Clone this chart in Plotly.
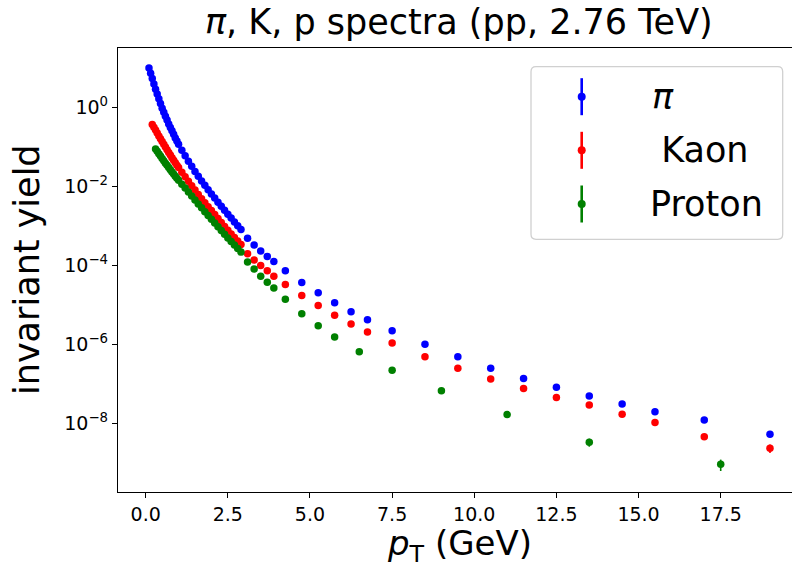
import numpy as np
import plotly.graph_objects as go

# ---------------- data ----------------
pion_pt = [0.10, 0.15, 0.20, 0.25, 0.30, 0.35, 0.40, 0.45, 0.50, 0.55, 0.60, 0.65, 0.70, 0.75, 0.80, 0.85, 0.90, 0.95,
           1.0, 1.1, 1.2, 1.3, 1.4, 1.5, 1.6, 1.7, 1.8, 1.9, 2.0, 2.1, 2.2, 2.3, 2.4, 2.5, 2.6, 2.7, 2.8, 2.9,
           3.1, 3.3, 3.5, 3.7, 3.9, 4.25, 4.75, 5.25, 5.75, 6.25, 6.75, 7.5,
           8.5, 9.5, 10.5, 11.5, 12.5, 13.5, 14.5, 15.5, 17.0, 19.0]
pion_log10_yield = [0.99, 0.855, 0.72, 0.585, 0.45, 0.33, 0.21, 0.09, -0.03, -0.13, -0.23, -0.33, -0.43, -0.52, -0.60, -0.69, -0.78, -0.86,
                    -0.94, -1.09, -1.23, -1.37, -1.50, -1.63, -1.75, -1.87, -1.98, -2.09, -2.20, -2.30, -2.41, -2.51, -2.61, -2.71, -2.81, -2.91, -3.00, -3.10,
                    -3.32, -3.49, -3.64, -3.78, -3.91, -4.14, -4.44, -4.70, -4.95, -5.18, -5.38, -5.66,
                    -6.00, -6.32, -6.61, -6.87, -7.09, -7.31, -7.51, -7.71, -7.92, -8.28]
pion_rel_err = [0.03, 0.03, 0.03, 0.03, 0.03, 0.03, 0.03, 0.03, 0.03, 0.03, 0.03, 0.03, 0.03, 0.03, 0.03, 0.03, 0.03, 0.03,
                0.04, 0.04, 0.04, 0.04, 0.04, 0.04, 0.04, 0.04, 0.04, 0.04, 0.05, 0.05, 0.05, 0.05, 0.05, 0.05, 0.05, 0.05, 0.05, 0.05,
                0.05, 0.05, 0.05, 0.05, 0.05, 0.06, 0.06, 0.06, 0.06, 0.06, 0.07, 0.07,
                0.07, 0.08, 0.08, 0.08, 0.09, 0.09, 0.10, 0.10, 0.10, 0.12]

kaon_pt = [0.20, 0.25, 0.30, 0.35, 0.40, 0.45, 0.50, 0.55, 0.60, 0.65, 0.70, 0.75, 0.80, 0.85, 0.90, 0.95,
           1.0, 1.1, 1.2, 1.3, 1.4, 1.5, 1.6, 1.7, 1.8, 1.9, 2.0, 2.1, 2.2, 2.3, 2.4, 2.5, 2.6, 2.7, 2.8, 2.9,
           3.1, 3.3, 3.5, 3.7, 3.9, 4.25, 4.75, 5.25, 5.75, 6.25, 6.75, 7.5,
           8.5, 9.5, 10.5, 11.5, 12.5, 13.5, 14.5, 15.5, 17.0, 19.0]
kaon_log10_yield = [-0.44, -0.51, -0.58, -0.655, -0.73, -0.80, -0.87, -0.94, -1.01, -1.08, -1.15, -1.215, -1.28, -1.345, -1.41, -1.47,
                    -1.53, -1.65, -1.765, -1.88, -1.99, -2.10, -2.21, -2.32, -2.42, -2.52, -2.62, -2.72, -2.82, -2.92, -3.02, -3.12, -3.21, -3.30, -3.39, -3.48,
                    -3.71, -3.87, -4.01, -4.14, -4.28, -4.49, -4.77, -5.02, -5.27, -5.49, -5.69, -5.97,
                    -6.32, -6.61, -6.88, -7.12, -7.35, -7.54, -7.77, -7.98, -8.34, -8.63]
kaon_rel_err = [0.04, 0.04, 0.04, 0.04, 0.04, 0.04, 0.04, 0.04, 0.04, 0.04, 0.04, 0.04, 0.04, 0.04, 0.04, 0.04,
                0.05, 0.05, 0.05, 0.05, 0.05, 0.05, 0.05, 0.05, 0.05, 0.05, 0.05, 0.05, 0.05, 0.05, 0.05, 0.05, 0.05, 0.05, 0.05, 0.05,
                0.06, 0.06, 0.06, 0.06, 0.06, 0.07, 0.07, 0.07, 0.07, 0.08, 0.08, 0.08,
                0.09, 0.09, 0.10, 0.10, 0.11, 0.12, 0.12, 0.13, 0.16, 0.24]

proton_pt = [0.30, 0.35, 0.40, 0.45, 0.50, 0.55, 0.60, 0.65, 0.70, 0.75, 0.80, 0.85, 0.90, 0.95,
             1.0, 1.1, 1.2, 1.3, 1.4, 1.5, 1.6, 1.7, 1.8, 1.9, 2.0, 2.1, 2.2, 2.3, 2.4, 2.5, 2.6, 2.7, 2.8, 2.9,
             3.1, 3.3, 3.5, 3.7, 3.9, 4.25, 4.75, 5.25, 5.75, 6.5, 7.5,
             9.0, 11.0, 13.5, 17.5]
proton_log10_yield = [-1.06, -1.12, -1.18, -1.24, -1.30, -1.36, -1.42, -1.475, -1.53, -1.585, -1.64, -1.695, -1.75, -1.80,
                      -1.85, -1.95, -2.05, -2.15, -2.25, -2.35, -2.45, -2.55, -2.65, -2.745, -2.84, -2.935, -3.03, -3.125, -3.22, -3.31, -3.40, -3.49, -3.58, -3.67,
                      -3.92, -4.10, -4.28, -4.43, -4.58, -4.86, -5.23, -5.53, -5.82, -6.19, -6.66,
                      -7.18, -7.78, -8.48, -9.04]
proton_rel_err = [0.05, 0.05, 0.05, 0.05, 0.05, 0.05, 0.05, 0.05, 0.05, 0.05, 0.05, 0.05, 0.05, 0.05,
                  0.05, 0.05, 0.05, 0.05, 0.05, 0.05, 0.05, 0.05, 0.05, 0.05, 0.06, 0.06, 0.06, 0.06, 0.06, 0.06, 0.06, 0.06, 0.06, 0.06,
                  0.07, 0.07, 0.07, 0.07, 0.07, 0.08, 0.08, 0.09, 0.09, 0.10, 0.11,
                  0.13, 0.16, 0.23, 0.32]

species_names = ["<i>π</i>", " Kaon", "Proton"]
species_colors = ["#0000ff", "#ff0000", "#008000"]

x_tick_vals = [0.0, 2.5, 5.0, 7.5, 10.0, 12.5, 15.0, 17.5]
x_tick_text = ["0.0", "2.5", "5.0", "7.5", "10.0", "12.5", "15.0", "17.5"]
y_tick_vals = [1e0, 1e-2, 1e-4, 1e-6, 1e-8]
y_tick_text = ["10<sup>0</sup>", "10<sup>−2</sup>", "10<sup>−4</sup>", "10<sup>−6</sup>", "10<sup>−8</sup>"]

title_text = "<i>π</i>, K, p spectra (pp, 2.76 TeV)"
x_label = "<i>p</i><sub>T</sub> (GeV)"
y_label = "invariant yield"

# ---------------- figure ----------------
FONT = "DejaVu Sans"
W, H = 792, 569
ML, MR, MT, MB = 118, 0, 48, 77
PW, PH = W - ML - MR, H - MT - MB

def px_to_paper(px, py):
    return (px - ML) / PW, (H - MB - py) / PH

fig = go.Figure()
series = [(pion_pt, pion_log10_yield, pion_rel_err),
          (kaon_pt, kaon_log10_yield, kaon_rel_err),
          (proton_pt, proton_log10_yield, proton_rel_err)]
for (pt, ly, rel), name, col in zip(series, species_names, species_colors):
    y = 10 ** np.array(ly)
    err = y * np.array(rel)
    fig.add_trace(go.Scatter(
        x=pt, y=y, mode="markers", name=name, showlegend=False,
        marker=dict(color=col, size=7.5, line=dict(width=0)),
        error_y=dict(type="data", array=err, visible=True, color=col, thickness=1.6, width=0),
    ))

axis_common = dict(showgrid=False, zeroline=False, showline=True, linecolor="black", linewidth=1.3,
                   ticks="outside", ticklen=5, tickwidth=1.2, tickcolor="black",
                   tickfont=dict(family=FONT, size=19, color="black"))
fig.update_xaxes(range=[-0.843, 19.670], tickvals=x_tick_vals, ticktext=x_tick_text, mirror=True, **axis_common)
fig.update_yaxes(type="log", range=[-9.739, 1.494], tickvals=y_tick_vals, ticktext=y_tick_text, mirror=False, **axis_common)

annotations = []
# title
tx, ty = px_to_paper(459, 22)
annotations.append(dict(text=title_text, x=tx, y=ty, xref="paper", yref="paper", xanchor="center", yanchor="middle",
                        showarrow=False, font=dict(family=FONT, size=35, color="black")))
# x label
lx, ly_ = px_to_paper(459, 545)
annotations.append(dict(text=x_label, x=lx, y=ly_, xref="paper", yref="paper", xanchor="center", yanchor="middle",
                        showarrow=False, font=dict(family=FONT, size=34, color="black")))
# y label
yx, yy = px_to_paper(27, 270)
annotations.append(dict(text=y_label, x=yx, y=yy, xref="paper", yref="paper", xanchor="center", yanchor="middle",
                        textangle=-90, showarrow=False, font=dict(family=FONT, size=35, color="black")))

# ---------------- custom legend (matplotlib-like errorbar handles) ----------------
shapes = []
bx0, by1 = px_to_paper(531, 66.7)
bx1, by0 = px_to_paper(782.7, 239.3)
rx, ry = 5 / PW, 5 / PH
path = (f"M {bx0+rx},{by1} L {bx1-rx},{by1} Q {bx1},{by1} {bx1},{by1-ry} "
        f"L {bx1},{by0+ry} Q {bx1},{by0} {bx1-rx},{by0} "
        f"L {bx0+rx},{by0} Q {bx0},{by0} {bx0},{by0+ry} "
        f"L {bx0},{by1-ry} Q {bx0},{by1} {bx0+rx},{by1} Z")
shapes.append(dict(type="path", path=path, xref="paper", yref="paper",
                   line=dict(color="#d0d0d0", width=1.3), fillcolor="rgba(255,255,255,0.8)", layer="above"))
legend_rows_py = [96.7, 150.3, 204.0]
legend_text_px = [650, 648, 648]
for rowy, col, name, txp in zip(legend_rows_py, species_colors, species_names, legend_text_px):
    hx, hy = px_to_paper(581.7, rowy)
    shapes.append(dict(type="line", xref="paper", yref="paper", xsizemode="pixel", ysizemode="pixel",
                       xanchor=hx, yanchor=hy, x0=0, x1=0, y0=-18.5, y1=18.5,
                       line=dict(color=col, width=2.6), layer="above"))
    shapes.append(dict(type="circle", xref="paper", yref="paper", xsizemode="pixel", ysizemode="pixel",
                       xanchor=hx, yanchor=hy, x0=-4, x1=4, y0=-4, y1=4,
                       line=dict(color=col, width=0), fillcolor=col, layer="above"))
    ax_, ay_ = px_to_paper(txp, rowy)
    annotations.append(dict(text=name, x=ax_, y=ay_, xref="paper", yref="paper", xanchor="left", yanchor="middle",
                            showarrow=False, font=dict(family=FONT, size=35, color="black")))

fig.update_layout(width=W, height=H, margin=dict(l=ML, r=MR, t=MT, b=MB, pad=0),
                  plot_bgcolor="white", paper_bgcolor="white",
                  font=dict(family=FONT, color="black"),
                  shapes=shapes, annotations=annotations, showlegend=False)

fig.write_html("out.html")
